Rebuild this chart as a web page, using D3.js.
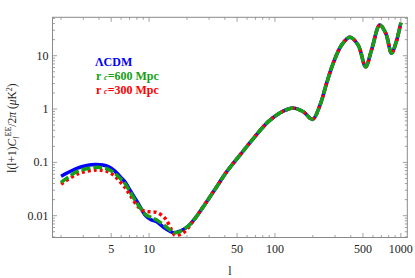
<!DOCTYPE html>
<html>
<head>
<meta charset="utf-8">
<script src="https://cdn.jsdelivr.net/npm/d3@7"></script>
<style>
  body { margin: 0; background: #fff; }
  svg text { font-family: "Liberation Serif", "DejaVu Serif", serif; }
</style>
</head>
<body>
<div id="chart"></div>
<script>
// multipole values and spectra (l(l+1)C_l^EE/2pi in muK^2)
var lcdmL = [2, 2.67, 3.2, 3.75, 4.3, 4.75, 5.3, 5.9, 6.5, 7.06, 8.2, 9.3, 10.3, 11.5, 13.4, 15.6, 17, 18.7, 20.5, 23.2, 32.4, 41.4, 52.7, 67.3, 88.5, 110, 125, 140, 168, 199, 228, 257, 290, 338, 394, 458, 525, 585, 680, 759, 843, 912, 1000];
var lcdmV = [0.055, 0.077, 0.087, 0.091, 0.089, 0.083, 0.070, 0.054, 0.042, 0.030, 0.017, 0.0103, 0.0085, 0.0077, 0.0058, 0.0048, 0.0050, 0.0055, 0.0064, 0.0089, 0.028, 0.067, 0.137, 0.28, 0.58, 0.85, 0.98, 1.04, 0.89, 0.64, 1.19, 3.03, 7.2, 15.8, 22.2, 15.8, 6.2, 12.8, 37.6, 26.3, 11.1, 17.1, 41.5];

var rc600L = [2, 2.67, 3.2, 3.85, 4.3, 4.75, 5.3, 5.9, 6.5, 7.06, 8.2, 9.5, 10.5, 11.5, 13.4, 15.6, 17, 18.7, 20.5, 23.2, 32.4, 41.4, 52.7, 67.3, 88.5, 110, 125, 140, 168, 199, 228, 257, 290, 338, 394, 458, 525, 585, 680, 759, 843, 912, 1000];
var rc600V = [0.042, 0.067, 0.076, 0.081, 0.079, 0.074, 0.063, 0.050, 0.039, 0.028, 0.0159, 0.0103, 0.0092, 0.0083, 0.0064, 0.0049, 0.0049, 0.0055, 0.0064, 0.0089, 0.028, 0.067, 0.137, 0.28, 0.58, 0.85, 0.98, 1.04, 0.89, 0.64, 1.19, 3.03, 7.2, 15.8, 22.2, 15.8, 6.2, 12.8, 37.6, 26.3, 11.1, 17.1, 41.5];

var rc300L = [2, 2.67, 3.2, 3.85, 4.3, 4.75, 5.3, 5.9, 6.5, 7.06, 8.2, 9.0, 10.2, 11.5, 13.4, 15.1, 16.1, 18.7, 20.5, 23.2, 32.4, 41.4, 52.7, 67.3, 88.5, 110, 125, 140, 168, 199, 228, 257, 290, 338, 394, 458, 525, 585, 680, 759, 843, 912, 1000];
var rc300V = [0.039, 0.060, 0.068, 0.072, 0.070, 0.066, 0.056, 0.043, 0.033, 0.0244, 0.0147, 0.0124, 0.0118, 0.0115, 0.0089, 0.0054, 0.0043, 0.0048, 0.006, 0.0089, 0.028, 0.067, 0.137, 0.28, 0.58, 0.85, 0.98, 1.04, 0.89, 0.64, 1.19, 3.03, 7.2, 15.8, 22.2, 15.8, 6.2, 12.8, 37.6, 26.3, 11.1, 17.1, 41.5];

var xTickLabels = [5, 10, 50, 100, 500, 1000];
var yTickLabels = [0.01, 0.1, 1, 10];

function init() {
    var w = 415, h = 278;
    var left = 52.5, right = 407.3, top = 17.3, bottom = 237.5;

    var svg = d3.select("#chart").append("svg")
        .attr("width", w)
        .attr("height", h);

    var xScale = d3.scaleLog().domain([1.71, 1125]).range([left, right]);
    var yScale = d3.scaleLog().domain([0.0039, 52.5]).range([bottom, top]);

    // minor tick positions
    var xMinor = [], yMinor = [];
    [1, 10, 100, 1000].forEach(function (d) {
        for (var k = 1; k < 10; k++) {
            var v = d * k;
            if (v >= 1.71 && v <= 1125) xMinor.push(v);
        }
    });
    [0.001, 0.01, 0.1, 1, 10].forEach(function (d) {
        for (var k = 1; k < 10; k++) {
            var v = d * k;
            if (v >= 0.0039 && v <= 52.5) yMinor.push(v);
        }
    });

    var axisColor = "#8a8a8a";

    // frame
    svg.append("rect")
        .attr("x", left).attr("y", top)
        .attr("width", right - left).attr("height", bottom - top)
        .attr("fill", "none").attr("stroke", axisColor).attr("stroke-width", 1);

    function isMajorX(v) { return xTickLabels.indexOf(v) >= 0 || v === 1; }
    function isMajorY(v) { return yTickLabels.some(function (t) { return Math.abs(t - v) / t < 1e-6; }); }

    //bottom + top ticks
    var xg = svg.append("g").attr("stroke", axisColor).attr("stroke-width", 0.8);
    xMinor.forEach(function (v) {
        var len = isMajorX(v) ? 4.5 : 2.5;
        var x = xScale(v);
        xg.append("line").attr("x1", x).attr("x2", x).attr("y1", bottom).attr("y2", bottom - len);
        xg.append("line").attr("x1", x).attr("x2", x).attr("y1", top).attr("y2", top + len);
    });
    //left + right ticks
    var yg = svg.append("g").attr("stroke", axisColor).attr("stroke-width", 0.8);
    yMinor.forEach(function (v) {
        var len = isMajorY(v) ? 4.5 : 2.5;
        var y = yScale(v);
        yg.append("line").attr("x1", left).attr("x2", left + len).attr("y1", y).attr("y2", y);
        yg.append("line").attr("x1", right).attr("x2", right - len).attr("y1", y).attr("y2", y);
    });

    svg.append("g").selectAll("text")
        .data(xTickLabels)
        .enter()
        .append("text")
        .attr("x", function (d) { return xScale(d); })
        .attr("y", 253)
        .attr("text-anchor", "middle")
        .attr("font-size", 12)
        .attr("fill", "#222")
        .text(function (d) { return d; });

    svg.append("g").selectAll("text")
        .data(yTickLabels)
        .enter()
        .append("text")
        .attr("x", left - 4)
        .attr("y", function (d) { return yScale(d) + 4; })
        .attr("text-anchor", "end")
        .attr("font-size", 12)
        .attr("fill", "#222")
        .text(function (d) { return d; });

    // axis labels
    svg.append("text")
        .attr("x", 230).attr("y", 275)
        .attr("text-anchor", "middle")
        .attr("font-size", 12)
        .attr("fill", "#222")
        .text("l");

    var yl = svg.append("text")
        .attr("transform", "translate(16," + 128 + ") rotate(-90)")
        .attr("text-anchor", "middle")
        .attr("font-size", 11.5)
        .attr("fill", "#222");
    yl.append("tspan").text("l(l+1)");
    yl.append("tspan").attr("font-style", "italic").text("C");
    yl.append("tspan").attr("font-style", "italic").attr("font-size", 8).attr("dy", 3).text("l");
    yl.append("tspan").attr("font-size", 8).attr("dy", -8).text("EE");
    yl.append("tspan").attr("dy", 5).text("/2");
    yl.append("tspan").attr("font-style", "italic").text("π");
    yl.append("tspan").text(" (");
    yl.append("tspan").attr("font-style", "italic").text("μ");
    yl.append("tspan").text("K");
    yl.append("tspan").attr("font-size", 8).attr("dy", -4).text("2");
    yl.append("tspan").attr("dy", 4).text(")");

    var line = d3.line()
        .x(function (d) { return xScale(d[0]); })
        .y(function (d) { return yScale(d[1]); })
        .curve(d3.curveCatmullRom.alpha(0.5));

    function pairs(ls, vs) { return ls.map(function (l, i) { return [l, vs[i]]; }); }

    var plot = svg.append("g");

    plot.append("path")
        .attr("d", line(pairs(lcdmL, lcdmV)))
        .attr("fill", "none")
        .attr("stroke", "#0000ff")
        .attr("stroke-width", 3.5);

    plot.append("path")
        .attr("d", line(pairs(rc300L, rc300V)))
        .attr("fill", "none")
        .attr("stroke", "#ff0000")
        .attr("stroke-width", 3.5)
        .attr("stroke-dasharray", "3,3");

    plot.append("path")
        .attr("d", line(pairs(rc600L, rc600V)))
        .attr("fill", "none")
        .attr("stroke", "#16a016")
        .attr("stroke-width", 3.5)
        .attr("stroke-dasharray", "9,3");

    // legend
    var leg = svg.append("g").attr("font-weight", "bold").attr("font-size", 12);
    leg.append("text").attr("x", 95).attr("y", 66).attr("fill", "#0000ff").text("ΛCDM");
    var l1 = leg.append("text").attr("x", 96).attr("y", 80).attr("fill", "#16a016");
    l1.append("tspan").text("r ");
    l1.append("tspan").attr("font-size", 8).attr("font-style", "italic").text("c");
    l1.append("tspan").text("=600 Mpc");
    var l2 = leg.append("text").attr("x", 96).attr("y", 94).attr("fill", "#ff0000");
    l2.append("tspan").text("r ");
    l2.append("tspan").attr("font-size", 8).attr("font-style", "italic").text("c");
    l2.append("tspan").text("=300 Mpc");
}

window.onload = init;
</script>
</body>
</html>
